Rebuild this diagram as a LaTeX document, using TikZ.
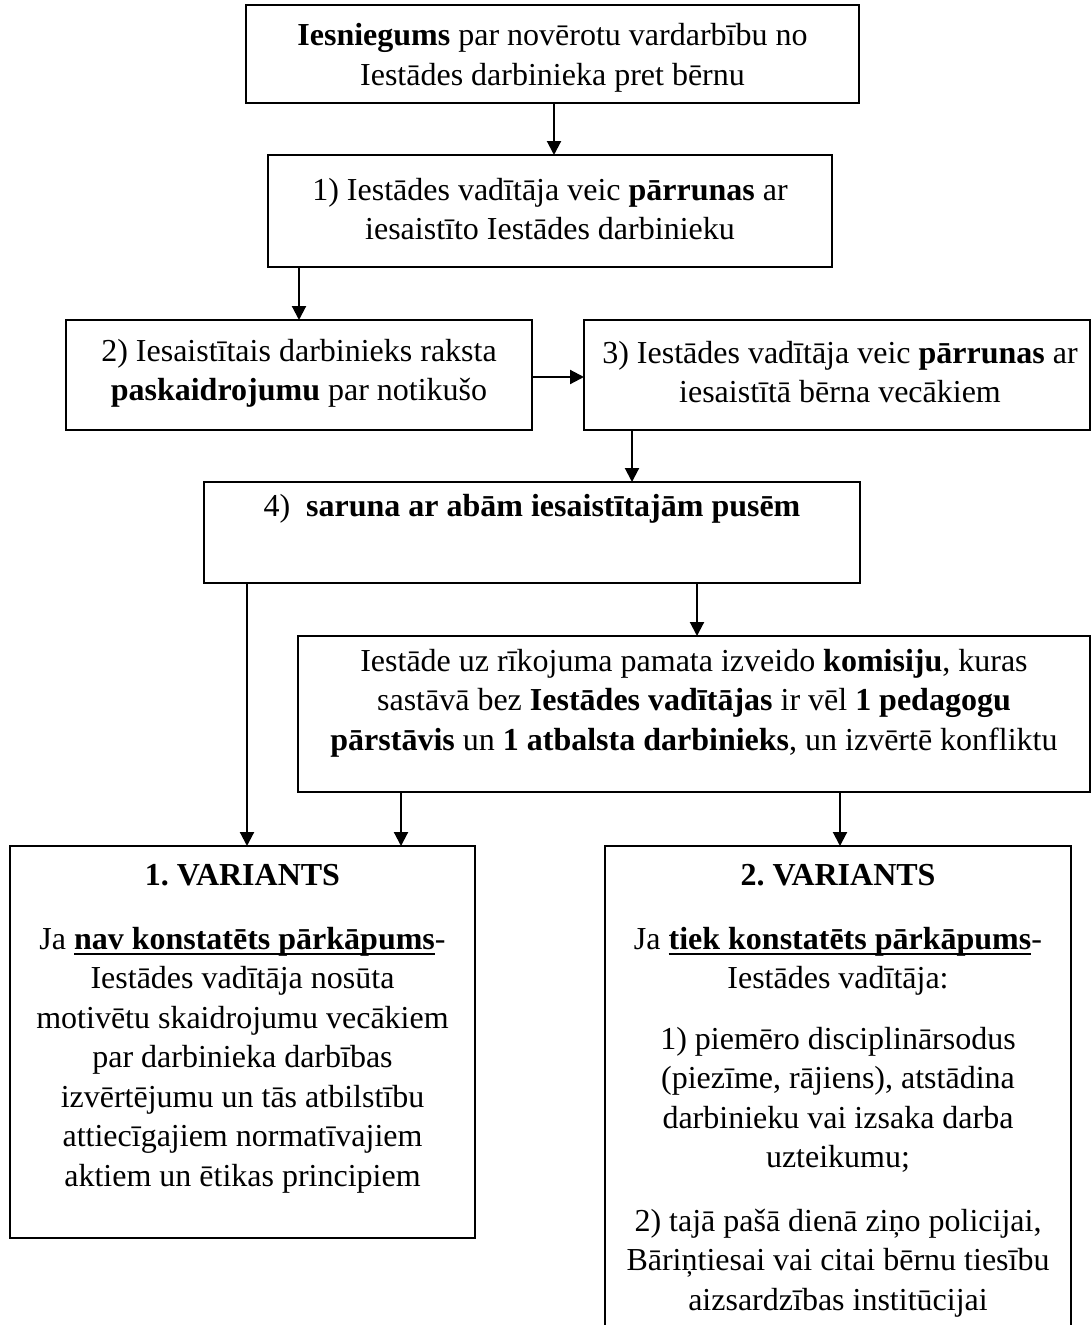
\documentclass[tikz,border=0pt]{standalone}
\usepackage{fontspec}
\setmainfont{Liberation Serif}
\frenchspacing
\newcommand{\myul}[1]{\leavevmode\setbox0=\hbox{#1}\rlap{\rule[-5.5pt]{\wd0}{2.4pt}}\box0}
\usetikzlibrary{arrows.meta}
\begin{document}
\begin{tikzpicture}[x=1pt,y=-1pt,
  box/.style={draw, line width=2.1pt, inner sep=0pt, outer sep=0pt},
  txt/.style={align=center, inner sep=0pt, anchor=north, font=\fontsize{32}{39.5}\selectfont},
  arr/.style={line width=2.1pt, -{Triangle[length=14pt,width=14pt]}},
]
\useasboundingbox (0,0) rectangle (1092,1325);
\clip (0,0) rectangle (1092,1325);
% boxes
\node[box, minimum width=613pt, minimum height=98pt]  (b1) at (552.5,54) {};
\node[box, minimum width=564pt, minimum height=112pt] (b2) at (550,211) {};
\node[box, minimum width=466pt, minimum height=110pt] (b3) at (299,375) {};
\node[box, minimum width=506pt, minimum height=110pt] (b4) at (837,375) {};
\node[box, minimum width=656pt, minimum height=101pt] (b5) at (532,532.5) {};
\node[box, minimum width=792pt, minimum height=156pt] (b6) at (694,714) {};
\node[box, minimum width=465pt, minimum height=392pt] (b7) at (242.5,1042) {};
\node[box, minimum width=466pt, minimum height=500pt] (b8) at (838,1096) {};
% texts
\node[txt] (t1) at (552.5,23.5) {\textbf{Iesniegums} par novērotu vardarbību no\\Iestādes darbinieka pret bērnu};
\node[txt] (t2) at (550,178) {1) Iestādes vadītāja veic \textbf{pārrunas} ar\\iesaistīto Iestādes darbinieku};
\node[txt] (t3) at (299,339) {2) Iesaistītais darbinieks raksta\\\textbf{paskaidrojumu} par notikušo};
\node[txt] (t4) at (840,341) {3) Iestādes vadītāja veic \textbf{pārrunas} ar\\iesaistītā bērna vecākiem};
\node[txt] (t5) at (532,494) {4)\ \ \textbf{saruna ar abām iesaistītajām pusēm}};
\node[txt] (t6) at (694,649) {Iestāde uz rīkojuma pamata izveido \textbf{komisiju}, kuras\\sastāvā bez \textbf{Iestādes vadītājas} ir vēl \textbf{1 pedagogu}\\\textbf{pārstāvis} un \textbf{1 atbalsta darbinieks}, un izvērtē konfliktu};
\node[txt] (t7a) at (242.5,864) {\textbf{1. VARIANTS}};
\node[txt] (t7b) at (242.5,927) {Ja \myul{\textbf{nav konstatēts pārkāpums}}-\\Iestādes vadītāja nosūta\\motivētu skaidrojumu vecākiem\\par darbinieka darbības\\izvērtējumu un tās atbilstību\\attiecīgajiem normatīvajiem\\aktiem un ētikas principiem};
\node[txt] (t8a) at (838,864) {\textbf{2. VARIANTS}};
\node[txt] (t8b) at (838,927) {Ja \myul{\textbf{tiek konstatēts pārkāpums}}-\\Iestādes vadītāja:};
\node[txt] (t8c) at (838,1027) {1) piemēro disciplinārsodus\\(piezīme, rājiens), atstādina\\darbinieku vai izsaka darba\\uzteikumu;};
\node[txt] (t8d) at (838,1209) {2) tajā pašā dienā ziņo policijai,\\Bāriņtiesai vai citai bērnu tiesību\\aizsardzības institūcijai};
% connectors
\draw[arr] ([xshift=1.5pt]b1.south) -- ([xshift=1.5pt]b1.south |- b2.north);
\draw[arr] (b3.north |- b2.south) -- (b3.north);
\draw[arr] ([yshift=-2pt]b3.east) -- ([yshift=-2pt]b4.west);
\draw[arr] ([xshift=48pt]b4.south west) -- ([xshift=48pt]b4.south west |- b5.north);
\draw[arr] ([xshift=43pt]b5.south west) -- ([xshift=43pt]b5.south west |- b7.north);
\draw[arr] ([xshift=493pt]b5.south west) -- ([xshift=493pt]b5.south west |- b6.north);
\draw[arr] ([xshift=103pt]b6.south west) -- ([xshift=103pt]b6.south west |- b7.north);
\draw[arr] ([xshift=542pt]b6.south west) -- ([xshift=542pt]b6.south west |- b8.north);
\end{tikzpicture}
\end{document}
